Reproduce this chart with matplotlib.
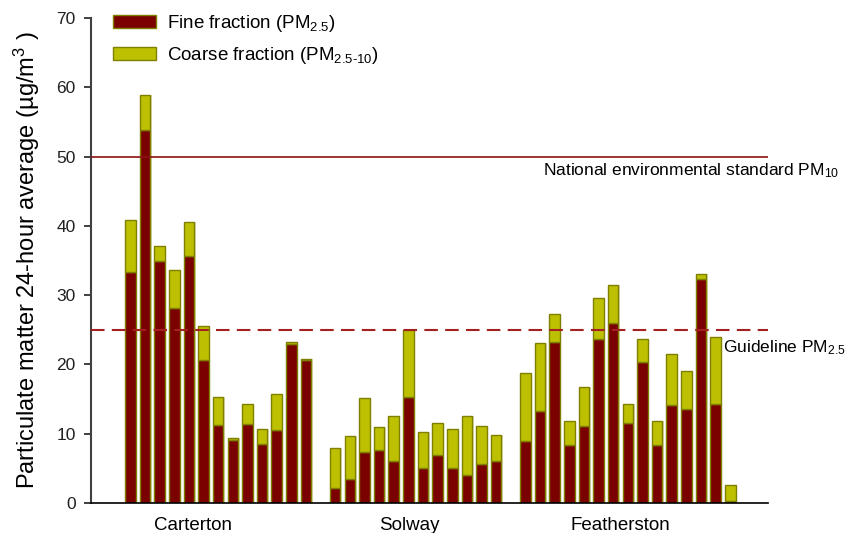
import numpy as np
import matplotlib
matplotlib.use("Agg")
import matplotlib.pyplot as plt
from matplotlib.patches import Patch

plt.rcParams['font.family'] = ['Liberation Sans', 'DejaVu Sans']
plt.rcParams['mathtext.fontset'] = 'custom'
plt.rcParams['mathtext.rm'] = 'Liberation Sans'
plt.rcParams['mathtext.it'] = 'Liberation Sans:italic'
plt.rcParams['mathtext.bf'] = 'Liberation Sans:bold'

# ---- data ----
sites = ["Carterton", "Solway", "Featherston"]
carterton_fine = [33.4, 53.9, 34.9, 28.2, 35.7, 20.7, 11.2, 9.1, 11.4, 8.5, 10.6, 23.0, 20.6]
carterton_coarse = [7.5, 5.0, 2.2, 5.4, 4.9, 4.8, 4.1, 0.3, 2.9, 2.2, 5.2, 0.2, 0.2]
solway_fine = [2.2, 3.5, 7.3, 7.7, 6.0, 15.3, 5.1, 7.0, 5.1, 4.1, 5.6, 6.1]
solway_coarse = [5.8, 6.2, 7.9, 3.2, 6.6, 9.7, 5.2, 4.6, 5.6, 8.4, 5.5, 3.7]
featherston_fine = [9.0, 13.3, 23.3, 8.3, 11.1, 23.6, 26.0, 11.6, 20.4, 8.4, 14.2, 13.5, 32.3, 14.3, 0.3]
featherston_coarse = [9.7, 9.8, 4.0, 3.6, 5.7, 6.0, 5.5, 2.7, 3.2, 3.5, 7.3, 5.6, 0.8, 9.6, 2.25]
pm10_standard = 50
pm25_guideline = 25
yticks = [0, 10, 20, 30, 40, 50, 60, 70]

fine_color = '#7B0000'
coarse_color = '#BCC000'
edge_color = '#7F7F00'

fig = plt.figure(figsize=(8.46, 5.33), dpi=100)
ax = fig.add_axes([91/846, 30/533, (768-91)/846, (503-18)/533])

groups = [(carterton_fine, carterton_coarse), (solway_fine, solway_coarse),
          (featherston_fine, featherston_coarse)]
start = 0
for fine, coarse in groups:
    x = start + np.arange(len(fine))
    ax.bar(x + 0.1, np.array(fine) + np.array(coarse), width=0.72, color='#dcdcb0',
           edgecolor='none', zorder=1)
    ax.bar(x, fine, width=0.72, color=fine_color, edgecolor=edge_color, linewidth=1.0, zorder=2)
    ax.bar(x, coarse, bottom=fine, width=0.72, color=coarse_color, edgecolor=edge_color,
           linewidth=1.0, zorder=2)
    start += len(fine) + 1

ax.axhline(pm10_standard, color='#8B1010', lw=1.2, zorder=3)
ax.axhline(pm25_guideline, color='#A52020', lw=1.5, ls=(0, (6.5, 3.5)), zorder=3)

ax.text(28.2, 48.0, r"National environmental standard PM$_{10}$", fontsize=12.5,
        va='center', ha='left', clip_on=False)
ax.text(40.5, 22.4, r"Guideline PM$_{2.5}$", fontsize=12.5, va='center', ha='left',
        clip_on=False)

ax.set_xlim(-2.69, 43.58)
ax.set_ylim(0, 70)
ax.set_yticks(yticks)
ax.tick_params(axis='y', direction='out', length=5, width=1.2, labelsize=12.5, pad=6,
               colors='#202020')
ax.set_xticks([4.3, 19.1, 33.5])
ax.set_xticklabels(sites)
ax.tick_params(axis='x', length=0, labelsize=13.5, pad=10)

for s in ['top', 'right']:
    ax.spines[s].set_visible(False)
ax.spines['left'].set_color('#404040')
ax.spines['left'].set_linewidth(1.5)
ax.spines['bottom'].set_color('black')
ax.spines['bottom'].set_linewidth(1.2)

ax.set_ylabel(r"Particulate matter 24-hour average (µg/m$^{3}$ )", fontsize=17)
ax.yaxis.set_label_coords(-0.073, 0.5)

handles = [Patch(facecolor=fine_color, edgecolor=edge_color),
           Patch(facecolor=coarse_color, edgecolor=edge_color)]
labels = [r"Fine fraction (PM$_{2.5}$)", r"Coarse fraction (PM$_{2.5\text{-}10}$)"]
ax.legend(handles, labels, loc='upper left', bbox_to_anchor=(113/846, 1 - 13/533),
          bbox_transform=fig.transFigure, frameon=False, borderpad=0, borderaxespad=0,
          fontsize=13.5, handlelength=2.3, handleheight=0.7, handletextpad=0.59,
          labelspacing=0.6)

fig.savefig("out.png", dpi=100)
